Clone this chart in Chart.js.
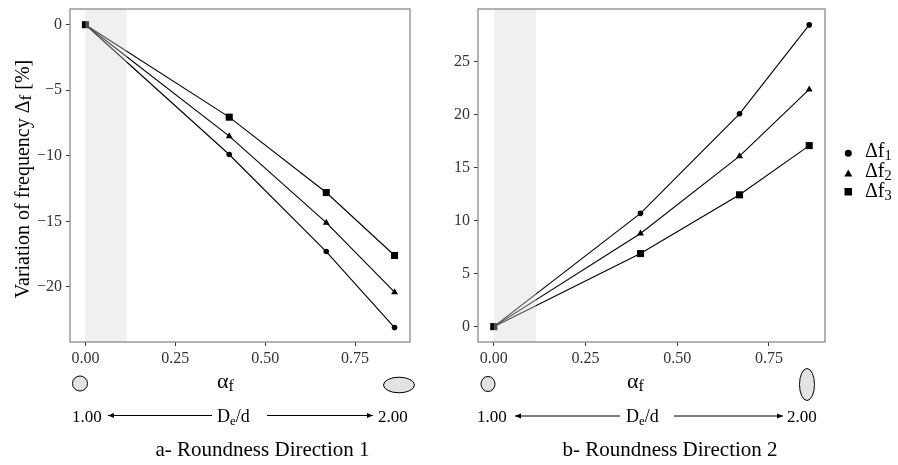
<!DOCTYPE html>
<html>
<head>
<meta charset="utf-8">
<script src="https://cdn.jsdelivr.net/npm/chart.js@4"></script>
<style>
  html, body { margin: 0; padding: 0; background: #fff; }
  #wrap { position: relative; width: 898px; height: 465px; overflow: hidden;
          font-family: 'Liberation Serif', 'Times New Roman', serif; color: #000; }
  canvas { position: absolute; top: 0; }
  .t { position: absolute; line-height: 1; white-space: nowrap; }
  .sub { font-size: 72%; position: relative; top: 0.22em; }
  .subf { font-size: 85%; position: relative; top: 0.12em; }
  svg { position: absolute; left: 0; top: 0; }
</style>
</head>
<body>
<div id="wrap">
  <canvas id="chartA" width="420" height="370" style="left:0"></canvas>
  <canvas id="chartB" width="390" height="370" style="left:440px"></canvas>
  <svg id="deco" width="898" height="465"></svg>
</div>
<script>
// eccentricity values (alpha_f)
const alphaF = [0, 0.40, 0.67, 0.86];

// a- Roundness Direction 1
const dirA_f1 = [0, -9.9, -17.3, -23.1];
const dirA_f2 = [0, -8.5, -15.1, -20.4];
const dirA_f3 = [0, -7.05, -12.8, -17.6];

// b- Roundness Direction 2
const dirB_f1 = [0, 10.7, 20.1, 28.5];
const dirB_f2 = [0, 8.8, 16.1, 22.4];
const dirB_f3 = [0, 6.9, 12.45, 17.1];

const xTicks = [0, 0.25, 0.5, 0.75];
const yTicksA = [0, -5, -10, -15, -20];
const yTicksB = [0, 5, 10, 15, 20, 25];
const shadeRange = [0, 0.115];

const SERIF = "'Liberation Serif', 'Times New Roman', serif";

function series(ys, style, radius) {
    return {
        data: alphaF.map((x, i) => ({ x, y: ys[i] })),
        borderColor: '#000',
        borderWidth: 1.1,
        backgroundColor: '#000',
        pointStyle: style,
        pointRadius: radius,
        pointBorderWidth: 0,
        pointBackgroundColor: '#000',
        tension: 0,
    };
}

// grauer Bereich + Rahmen
const panelPlugin = {
    id: 'panel',
    beforeDatasetsDraw(chart) {
        const { ctx, chartArea: a, scales: { x } } = chart;
        ctx.save();
        ctx.fillStyle = '#f0f0f0';
        const x0 = x.getPixelForValue(shadeRange[0]);
        const x1 = x.getPixelForValue(shadeRange[1]);
        ctx.fillRect(x0, a.top, x1 - x0, a.bottom - a.top);
        ctx.restore();
    },
    afterDatasetsDraw(chart) {
        const { ctx, chartArea: a, scales: { x } } = chart;
        ctx.save();
        ctx.fillStyle = 'rgba(240,240,240,0.32)';
        const x0 = x.getPixelForValue(shadeRange[0]);
        const x1 = x.getPixelForValue(shadeRange[1]);
        ctx.fillRect(x0, a.top, x1 - x0, a.bottom - a.top);
        ctx.strokeStyle = '#8a8a8a';
        ctx.lineWidth = 1.3;
        ctx.strokeRect(a.left, a.top, a.right - a.left, a.bottom - a.top);
        ctx.restore();
    }
};

function makeChart(id, sets, yMin, yMax, yTicks, yWidth, padRight) {
    return new Chart(document.getElementById(id), {
        type: 'line',
        data: { datasets: sets },
        options: {
            responsive: false,
            animation: false,
            layout: { padding: { top: 9, right: padRight, left: 0, bottom: 0 } },
            plugins: { legend: { display: false }, tooltip: { enabled: false } },
            scales: {
                x: {
                    type: 'linear',
                    min: -0.043, max: 0.903,
                    afterBuildTicks: s => { s.ticks = xTicks.map(v => ({ value: v })); },
                    afterFit: s => { s.height = 28; s.paddingLeft = 0; s.paddingRight = 0; },
                    grid: { drawOnChartArea: false, drawTicks: true, tickLength: 4, tickColor: '#333' },
                    border: { display: false },
                    ticks: {
                        color: '#333', padding: 3,
                        font: { family: SERIF, size: 16 },
                        callback: v => v.toFixed(2),
                    },
                },
                y: {
                    min: yMin, max: yMax,
                    afterBuildTicks: s => { s.ticks = yTicks.map(v => ({ value: v })); },
                    afterFit: s => { s.width = yWidth; s.paddingTop = 0; s.paddingBottom = 0; },
                    grid: { drawOnChartArea: false, drawTicks: true, tickLength: 4, tickColor: '#333' },
                    border: { display: false },
                    ticks: {
                        color: '#333', padding: 4,
                        font: { family: SERIF, size: 16 },
                        callback: v => (v < 0 ? '\u2212' + Math.abs(v) : String(v)),
                    },
                },
            },
        },
        plugins: [panelPlugin],
    });
}

makeChart('chartA', [
    series(dirA_f1, 'circle', 2.8),
    series(dirA_f2, 'triangle', 4),
    series(dirA_f3, 'rect', 5),
], -24.2, 1.2, yTicksA, 70, 10);

makeChart('chartB', [
    series(dirB_f1, 'circle', 2.8),
    series(dirB_f2, 'triangle', 4),
    series(dirB_f3, 'rect', 5),
], -1.45, 30.0, yTicksB, 38, 2);

// --- Beschriftungen ---
const wrap = document.getElementById('wrap');
function text(html, x, baseline, size, align) {
    const d = document.createElement('div');
    d.className = 't';
    d.innerHTML = html;
    d.style.fontSize = size + 'px';
    d.style.top = (baseline - 0.8375 * size) + 'px';
    d.style.left = x + 'px';
    if (align === 'center') d.style.transform = 'translateX(-50%)';
    wrap.appendChild(d);
    return d;
}

const yTitle = text('Variation of frequency \u0394<span class="subf">f</span> [%]', 0, 0, 20);
yTitle.style.left = '22px';
yTitle.style.top = '179px';
yTitle.style.transform = 'translate(-50%, -50%) rotate(-90deg)';

const svg = document.getElementById('deco');
const NS = 'http://www.w3.org/2000/svg';
function svgEl(tag, attrs) {
    const e = document.createElementNS(NS, tag);
    for (const k in attrs) e.setAttribute(k, attrs[k]);
    svg.appendChild(e);
}
function arrow(x1, x2, y, headAt) {
    svgEl('line', { x1, y1: y, x2, y2: y, stroke: '#000', 'stroke-width': 1 });
    const tip = headAt === 'left' ? x1 : x2;
    const back = headAt === 'left' ? tip + 6 : tip - 6;
    svgEl('polygon', { points: `${tip},${y} ${back},${y - 2.5} ${back},${y + 2.5}`, fill: '#000' });
}

// Panel a
text('\u03B1<span class="sub">f</span>', 217, 388, 22);
svgEl('ellipse', { cx: 80, cy: 383.5, rx: 7.5, ry: 7.5, fill: '#e3e3e3', stroke: '#000', 'stroke-width': 1 });
svgEl('ellipse', { cx: 399, cy: 385, rx: 15.5, ry: 7.8, fill: '#e3e3e3', stroke: '#000', 'stroke-width': 1 });
text('1.00', 72, 422, 17);
arrow(108, 212, 415.5, 'left');
text('D<span class="sub">e</span>/d', 217, 422, 18);
arrow(267, 373, 415.5, 'right');
text('2.00', 378, 422, 17);
text('a- Roundness Direction 1', 262.5, 457, 21, 'center');

// Panel b
text('\u03B1<span class="sub">f</span>', 627, 388, 22);
svgEl('ellipse', { cx: 488, cy: 384, rx: 7, ry: 7.5, fill: '#e3e3e3', stroke: '#000', 'stroke-width': 1 });
svgEl('ellipse', { cx: 807, cy: 384.5, rx: 7.5, ry: 16, fill: '#e3e3e3', stroke: '#000', 'stroke-width': 1 });
text('1.00', 477, 422, 17);
arrow(515, 620, 416, 'left');
text('D<span class="sub">e</span>/d', 626, 422, 18);
arrow(674, 783, 416, 'right');
text('2.00', 787, 422, 17);
text('b- Roundness Direction 2', 670, 457, 21, 'center');

// Legende
svgEl('circle', { cx: 848.3, cy: 153.3, r: 3.5, fill: '#000' });
svgEl('polygon', { points: '848.3,169.5 844.3,176.5 852.3,176.5', fill: '#000' });
svgEl('rect', { x: 844.5, y: 188, width: 7.5, height: 7.5, fill: '#000' });
text('\u0394f<span class="sub">1</span>', 865, 157, 20);
text('\u0394f<span class="sub">2</span>', 865, 177, 20);
text('\u0394f<span class="sub">3</span>', 865, 197, 20);
</script>
</body>
</html>
